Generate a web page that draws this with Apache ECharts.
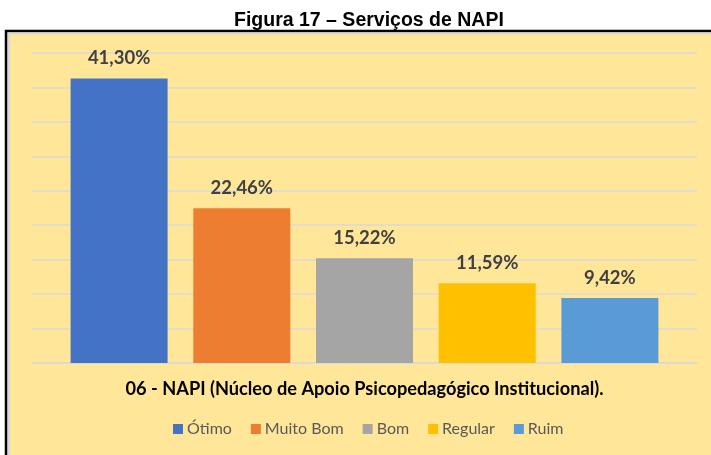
<!DOCTYPE html>
<html>
<head>
<meta charset="utf-8">
<script src="https://cdn.jsdelivr.net/npm/echarts@6/dist/echarts.min.js"></script>
<style>
html,body{margin:0;padding:0;background:#fff;}
#c{width:711px;height:455px;}
</style>
</head>
<body>
<div id="c"></div>
<script>
const titleText = 'Figura 17 – Serviços de NAPI';
const categories = ['06 - NAPI (Núcleo de Apoio Psicopedagógico Institucional).'];
const seriesNames = ['Ótimo', 'Muito Bom', 'Bom', 'Regular', 'Ruim'];
const otimo = [41.30];
const muitoBom = [22.46];
const bom = [15.22];
const regular = [11.59];
const ruim = [9.42];
const colors = ['#4472C4', '#ED7D31', '#A5A5A5', '#FFC000', '#5B9BD5'];
const yMin = 0, yMax = 45, yInterval = 5;

const values = [otimo, muitoBom, bom, regular, ruim];
const chart = echarts.init(document.getElementById('c'), null, {renderer: 'canvas'});

const series = seriesNames.map((name, i) => ({
  name: name,
  type: 'bar',
  data: values[i],
  barWidth: 97,
  barGap: '26.5%',
  itemStyle: {color: colors[i]},
  label: {
    show: true,
    position: 'top',
    distance: 11,
    fontFamily: 'Lato',
    fontWeight: 'bold',
    fontSize: 18.5,
    color: '#404040',
    formatter: p => p.value.toFixed(2).replace('.', ',') + '%'
  }
}));

chart.setOption({
  animation: false,
  backgroundColor: '#ffffff',
  color: colors,
  graphic: [
    {type: 'rect', z: -10, silent: true, shape: {x: 6, y: 31, width: 720, height: 440},
     style: {fill: '#FFE699', stroke: '#000000', lineWidth: 2.5}},
    {type: 'rect', z: -9, silent: true, shape: {x: 9, y: 33.5, width: 720, height: 440},
     style: {fill: 'none', stroke: '#D9D9D9', lineWidth: 2}}
  ],
  title: {
    text: titleText,
    left: 229,
    top: 6,
    textStyle: {fontFamily: 'Liberation Sans', fontWeight: 'bold', fontSize: 19.5, color: '#000000'}
  },
  legend: {
    data: seriesNames,
    left: 173,
    top: 421,
    padding: 0,
    itemWidth: 10,
    itemHeight: 10,
    itemGap: 19,
    icon: 'rect',
    textStyle: {fontFamily: 'Lato', fontSize: 16, color: '#595959', padding: [0, 0, 0, -1]}
  },
  grid: {left: 32, right: 14, top: 53, bottom: 92, containLabel: false},
  xAxis: {
    type: 'category',
    data: categories,
    axisLine: {lineStyle: {color: '#D9D9D9', width: 1.5}},
    axisTick: {show: false},
    axisLabel: {fontFamily: 'Lato', fontWeight: 'bold', fontSize: 18.2, color: '#000000', margin: 17}
  },
  yAxis: {
    type: 'value',
    min: yMin,
    max: yMax,
    interval: yInterval,
    axisLabel: {show: false},
    axisLine: {show: false},
    axisTick: {show: false},
    splitLine: {lineStyle: {color: '#D9D9D9', width: 1.5}}
  },
  series: series
});
</script>
</body>
</html>
